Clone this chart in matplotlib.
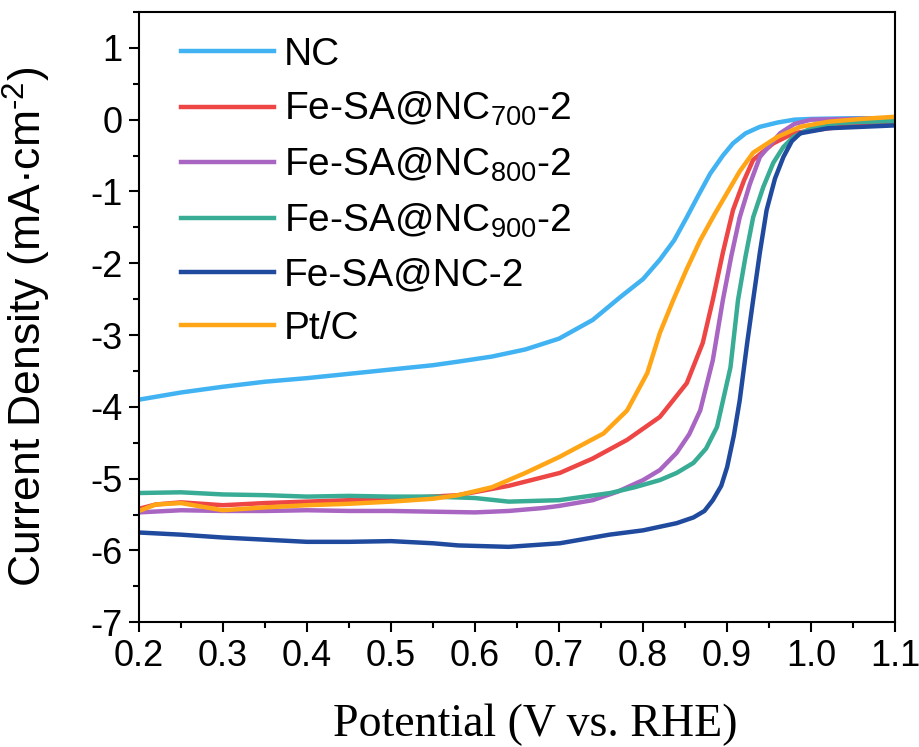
import matplotlib
matplotlib.use("Agg")
from matplotlib import pyplot as plt
from matplotlib.ticker import MultipleLocator

plt.rcParams['font.family'] = ['Liberation Sans', 'DejaVu Sans']
plt.rcParams['mathtext.fontset'] = 'custom'
plt.rcParams['mathtext.rm'] = 'Liberation Sans'
plt.rcParams['mathtext.it'] = 'Liberation Sans'
plt.rcParams['axes.unicode_minus'] = False

# potential (V vs RHE) / current density (mA cm-2)
nc_x = [0.20, 0.25, 0.30, 0.35, 0.40, 0.45, 0.50, 0.55, 0.58, 0.62, 0.66, 0.70, 0.74, 0.773, 0.80, 0.82,
        0.837, 0.852, 0.866, 0.88, 0.895, 0.907, 0.922, 0.939, 0.96, 0.98, 1.00, 1.05, 1.10]
nc_y = [-3.90, -3.80, -3.72, -3.65, -3.60, -3.54, -3.48, -3.42, -3.37, -3.30, -3.20, -3.05, -2.79, -2.47, -2.22,
        -1.95, -1.68, -1.36, -1.05, -0.75, -0.50, -0.33, -0.19, -0.10, -0.04, 0.00, 0.01, 0.02, 0.02]

ptc_x = [0.20, 0.22, 0.25, 0.27, 0.30, 0.35, 0.40, 0.45, 0.50, 0.55, 0.58, 0.62, 0.66, 0.70, 0.753, 0.781,
         0.805, 0.82, 0.836, 0.852, 0.868, 0.885, 0.90, 0.915, 0.931, 0.96, 0.987, 1.02, 1.06, 1.10]
ptc_y = [-5.45, -5.36, -5.34, -5.38, -5.44, -5.40, -5.37, -5.35, -5.32, -5.28, -5.23, -5.12, -4.92, -4.70, -4.37, -4.05,
         -3.53, -2.97, -2.51, -2.08, -1.68, -1.32, -1.02, -0.72, -0.46, -0.24, -0.10, -0.03, 0.01, 0.04]

red_x = [0.20, 0.22, 0.25, 0.30, 0.35, 0.40, 0.45, 0.50, 0.55, 0.58, 0.64, 0.701, 0.74, 0.781, 0.82, 0.852,
         0.871, 0.883, 0.895, 0.907, 0.92, 0.931, 0.955, 0.979, 1.00, 1.05, 1.10]
red_y = [-5.42, -5.36, -5.33, -5.37, -5.34, -5.32, -5.30, -5.28, -5.25, -5.23, -5.10, -4.92, -4.72, -4.46, -4.14, -3.67,
         -3.11, -2.51, -1.85, -1.26, -0.85, -0.56, -0.33, -0.19, -0.15, -0.08, -0.03]

pur_x = [0.20, 0.25, 0.30, 0.35, 0.40, 0.45, 0.50, 0.55, 0.60, 0.64, 0.68, 0.70, 0.74, 0.77, 0.80, 0.82,
         0.840, 0.855, 0.868, 0.883, 0.895, 0.905, 0.915, 0.927, 0.939, 0.963, 0.98, 1.00, 1.05, 1.10]
pur_y = [-5.47, -5.44, -5.45, -5.45, -5.44, -5.45, -5.45, -5.46, -5.47, -5.45, -5.41, -5.38, -5.30, -5.18, -5.02, -4.88,
         -4.64, -4.38, -4.05, -3.35, -2.51, -1.90, -1.36, -0.90, -0.52, -0.19, -0.06, 0.00, 0.01, 0.02]

teal_x = [0.20, 0.25, 0.30, 0.35, 0.40, 0.45, 0.50, 0.55, 0.60, 0.64, 0.70, 0.761, 0.79, 0.82, 0.84, 0.86,
          0.875, 0.888, 0.904, 0.913, 0.922, 0.931, 0.943, 0.955, 0.967, 0.979, 1.00, 1.03, 1.06, 1.10]
teal_y = [-5.20, -5.19, -5.22, -5.23, -5.25, -5.24, -5.25, -5.25, -5.27, -5.32, -5.30, -5.20, -5.12, -5.02, -4.92, -4.78,
          -4.58, -4.28, -3.45, -2.51, -1.90, -1.36, -0.94, -0.60, -0.38, -0.24, -0.12, -0.05, -0.03, -0.02]

blue_x = [0.20, 0.25, 0.30, 0.35, 0.40, 0.45, 0.50, 0.55, 0.58, 0.64, 0.701, 0.76, 0.80, 0.84, 0.86, 0.873,
          0.883, 0.893, 0.90, 0.908, 0.915, 0.924, 0.931, 0.939, 0.947, 0.957, 0.967, 0.977, 0.987, 1.02, 1.06, 1.10]
blue_y = [-5.75, -5.78, -5.82, -5.85, -5.88, -5.88, -5.87, -5.90, -5.93, -5.95, -5.90, -5.78, -5.72, -5.62, -5.54, -5.45,
          -5.30, -5.10, -4.84, -4.40, -3.91, -3.10, -2.51, -1.85, -1.26, -0.82, -0.52, -0.30, -0.19, -0.12, -0.10, -0.08]

series = [
    (nc_x, nc_y, "NC", "#41B3F2"),
    (red_x, red_y, "Fe-SA@NC$_{700}$-2", "#EE4545"),
    (pur_x, pur_y, "Fe-SA@NC$_{800}$-2", "#A865C2"),
    (teal_x, teal_y, "Fe-SA@NC$_{900}$-2", "#38AC94"),
    (blue_x, blue_y, "Fe-SA@NC-2", "#1F4A9E"),
    (ptc_x, ptc_y, "Pt/C", "#FFA516"),
]

fig = plt.figure(figsize=(9.2, 7.47), dpi=100)
ax = fig.add_axes([0.151, 0.167, 0.822, 0.817])

for xs, ys, lab, col in series:
    ax.plot(xs, ys, color=col, lw=3.2, label=lab)

ax.set_xlim(0.2, 1.1)
ax.set_ylim(-7, 1.5)
ax.xaxis.set_minor_locator(MultipleLocator(0.05))
ax.yaxis.set_major_locator(MultipleLocator(1))
ax.yaxis.set_minor_locator(MultipleLocator(0.5))
ax.set_xticks([0.2, 0.3, 0.4, 0.5, 0.6, 0.7, 0.8, 0.9, 1.0, 1.1])
ax.set_xticklabels(["0.2", "0.3", "0.4", "0.5", "0.6", "0.7", "0.8", "0.9", "1.0", "1.1"])
ax.tick_params(which='major', direction='out', length=7, width=1.5, labelsize=26, pad=5)
ax.tick_params(which='minor', direction='out', length=4, width=1.5)
for s in ax.spines.values():
    s.set_linewidth(1.5)

ax.set_ylabel("Current Density (mA·cm$^{\\text{-}2}$)", fontsize=32)
ax.yaxis.set_label_coords(-0.113, 0.485)
ax.set_xlabel("Potential (V vs. RHE)", fontsize=33, family=['Liberation Serif'])
ax.xaxis.set_label_coords(0.524, -0.133)

ax.legend(loc='upper left', bbox_to_anchor=(0.035, 0.985), frameon=False, fontsize=28,
          handlelength=2.4, handletextpad=0.25, labelspacing=0.45, borderaxespad=0)

fig.savefig("out.png", dpi=100)
